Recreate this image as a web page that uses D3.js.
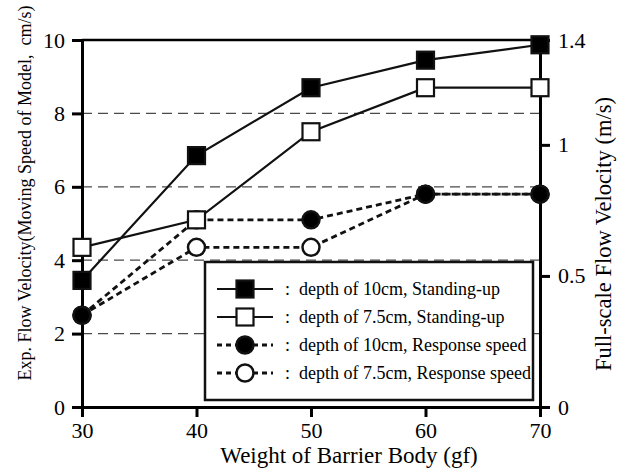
<!DOCTYPE html>
<html><head><meta charset="utf-8">
<script src="https://cdn.jsdelivr.net/npm/d3@7"></script>
<style>body{margin:0;background:#fff}svg{display:block}</style>
</head><body><svg id="c" width="617" height="475" font-family="'Liberation Serif', Tinos, 'Times New Roman', 'DejaVu Serif', serif"></svg>
<script>
const weights = [30, 40, 50, 60, 70];
const standing10 = [3.45, 6.85, 8.7, 9.45, 9.87];
const standing75 = [4.35, 5.1, 7.5, 8.7, 8.7];
const response10 = [2.5, 5.1, 5.1, 5.8, 5.8];
const response75 = [2.5, 4.35, 4.35, 5.8, 5.8];
const leftTicks = [0, 2, 4, 6, 8, 10];
const rightTicks = [0, 0.5, 1, 1.4];
const gridValues = [2, 4, 6, 8];
const legendLabels = [": depth of 10cm, Standing-up", ": depth of 7.5cm, Standing-up", ": depth of 10cm, Response speed", ": depth of 7.5cm, Response speed"];
const xTitle = "Weight of Barrier Body (gf)";
const yTitle = "Exp. Flow Velocity(Moving Speed of Model,  cm/s)";
const y2Title = "Full-scale Flow Velocity (m/s)";

const FONT = "'Liberation Serif', Tinos, 'Times New Roman', 'DejaVu Serif', serif";
const svg = d3.select("#c");
const x = d3.scaleLinear().domain([30, 70]).range([82, 540]);
const y = d3.scaleLinear().domain([0, 10]).range([407, 40]);
const y2 = d3.scaleLinear().domain([0, 1.4]).range([407, 40]);

// gridlines
svg.append("g").selectAll("line").data(gridValues).join("line")
  .attr("x1", x(30)).attr("x2", x(70)).attr("y1", d => y(d)).attr("y2", d => y(d))
  .attr("stroke", "#4a4a4a").attr("stroke-width", 1.3).attr("stroke-dasharray", "10,6");
// top frame
svg.append("line").attr("x1", x(30)).attr("x2", x(70)).attr("y1", y(10)).attr("y2", y(10))
  .attr("stroke", "#000").attr("stroke-width", 2.5);

// legend box
const lg = svg.append("g");
lg.append("rect").attr("x", 205).attr("y", 262).attr("width", 328).attr("height", 138)
  .attr("fill", "#fff").attr("stroke", "#111").attr("stroke-width", 2.5);

// axes
function styleAxis(g) {
  g.attr("font-family", FONT).attr("font-size", 22);
  g.select(".domain").attr("stroke", "#000").attr("stroke-width", 3);
  g.selectAll(".tick line").attr("stroke", "#000").attr("stroke-width", 3);
  g.selectAll(".tick text").attr("font-family", FONT).attr("font-size", 22).attr("fill", "#000");
}
svg.append("g").attr("transform", "translate(0,407)")
  .call(d3.axisBottom(x).tickValues(weights).tickSize(10).tickSizeOuter(0).tickPadding(5))
  .call(styleAxis);
svg.append("g").attr("transform", "translate(82,0)")
  .call(d3.axisLeft(y).tickValues(leftTicks).tickSize(10).tickSizeOuter(0).tickPadding(7))
  .call(styleAxis);
svg.append("g").attr("transform", "translate(540,0)")
  .call(d3.axisRight(y2).tickValues(rightTicks).tickFormat(d3.format("~g")).tickSize(10).tickSizeOuter(0).tickPadding(8))
  .call(styleAxis);

// series
const series = [
  {vals: response75, dash: "6,4", marker: "circle", fill: "#fff"},
  {vals: response10, dash: "6,4", marker: "circle", fill: "#000"},
  {vals: standing75, dash: null, marker: "square", fill: "#fff"},
  {vals: standing10, dash: null, marker: "square", fill: "#000"}
];
const line = d3.line().x((d, i) => x(weights[i])).y(d => y(d));
series.forEach(s => {
  svg.append("path").datum(s.vals).attr("d", line).attr("fill", "none")
    .attr("stroke", "#111").attr("stroke-width", s.dash ? 2.8 : 2.2)
    .attr("stroke-dasharray", s.dash);
});
function marker(g, type, fill, cx, cy) {
  if (type === "square") {
    g.append("rect").attr("x", cx - 8.5).attr("y", cy - 8.5).attr("width", 17).attr("height", 17)
      .attr("fill", fill).attr("stroke", "#111").attr("stroke-width", 2.2);
  } else {
    g.append("circle").attr("cx", cx).attr("cy", cy).attr("r", 8.5)
      .attr("fill", fill).attr("stroke", "#111").attr("stroke-width", 2.5);
  }
}
const mg = svg.append("g");
series.forEach(s => {
  s.vals.forEach((v, i) => marker(mg, s.marker, s.fill, x(weights[i]), y(v)));
});

// legend entries
const legendSeries = [series[3], series[2], series[1], series[0]];
legendLabels.forEach((lab, i) => {
  const cy = 289 + i * 28;
  const s = legendSeries[i];
  lg.append("line").attr("x1", 217).attr("x2", 273).attr("y1", cy).attr("y2", cy)
    .attr("stroke", "#111").attr("stroke-width", s.dash ? 2.8 : 2.2).attr("stroke-dasharray", s.dash ? "5,4" : null);
  marker(lg, s.marker, s.fill, 245, cy);
  lg.append("text").attr("x", 285).attr("y", cy + 6).attr("font-family", FONT).attr("font-size", 18)
    .style("white-space", "pre")
    .text(lab.replace(": ", ":  "));
});

// titles
svg.append("text").attr("x", 349).attr("y", 463).attr("text-anchor", "middle")
  .attr("font-family", FONT).attr("font-size", 23).text(xTitle);
svg.append("text").attr("transform", "translate(31,193) rotate(-90)").attr("text-anchor", "middle")
  .attr("font-family", FONT).attr("font-size", 18).style("white-space", "pre").text(yTitle);
svg.append("text").attr("transform", "translate(611,234) rotate(-90)").attr("text-anchor", "middle")
  .attr("font-family", FONT).attr("font-size", 22.5).text(y2Title);
</script></body></html>
